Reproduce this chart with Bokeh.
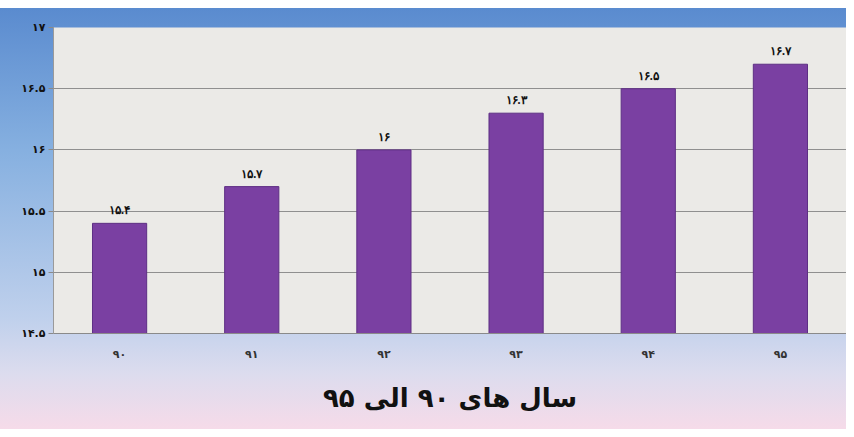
from bokeh.plotting import figure
from bokeh.models import ColumnDataSource, Title, FixedTicker, LabelSet
from bokeh.embed import file_html
from bokeh.resources import INLINE

years = ["۹۰", "۹۱", "۹۲", "۹۳", "۹۴", "۹۵"]
values = [15.4, 15.7, 16.0, 16.3, 16.5, 16.7]
value_labels = ["۱۵.۴", "۱۵.۷", "۱۶", "۱۶.۳", "۱۶.۵", "۱۶.۷"]
y_ticks = [14.5, 15, 15.5, 16, 16.5, 17]
y_tick_labels = ["۱۴.۵", "۱۵", "۱۵.۵", "۱۶", "۱۶.۵", "۱۷"]
title_text = "سال های ۹۰ الی ۹۵"

FONT = "DejaVu Sans"

src = ColumnDataSource(dict(year=years, value=values, label=value_labels))

p = figure(x_range=years, y_range=(14.5, 17), width=846, height=429,
           output_backend="svg", toolbar_location=None,
           min_border_left=53, min_border_right=0, min_border_top=27, min_border_bottom=0)

p.styles = {"background-image": "linear-gradient(to bottom, #ffffff 0px, #ffffff 8px, #5a8bcf 8px, #86b0e0 35%, #bfd0ec 74%, #dcdcee 87%, #f6dbe9 100%)"}
p.border_fill_color = None
p.background_fill_color = "#ebeae7"
p.outline_line_color = None

p.vbar(x="year", top="value", bottom=14.5, width=0.41, source=src,
       fill_color="#7a40a2", line_color="#5e2f84", line_width=1)

labels = LabelSet(x="year", y="value", text="label", source=src, y_offset=6,
                  text_align="center", text_baseline="bottom",
                  text_font=FONT, text_font_style="bold", text_font_size="12px",
                  text_color="#111111")
p.add_layout(labels)

p.yaxis.ticker = FixedTicker(ticks=y_ticks)
p.yaxis.major_label_overrides = {t: l for t, l in zip(y_ticks, y_tick_labels)}
p.yaxis.major_label_text_font = FONT
p.yaxis.major_label_text_font_style = "bold"
p.yaxis.major_label_text_font_size = "11px"
p.yaxis.major_label_text_color = "#111111"
p.yaxis.axis_line_color = "#9a9a9a"
p.yaxis.major_tick_line_color = "#8a8a8a"
p.yaxis.major_tick_out = 5
p.yaxis.major_tick_in = 0
p.yaxis.minor_tick_line_color = None
p.yaxis.major_label_standoff = 3

p.xaxis.major_label_text_font = FONT
p.xaxis.major_label_text_font_style = "bold"
p.xaxis.major_label_text_font_size = "11px"
p.xaxis.major_label_text_color = "#333333"
p.xaxis.axis_line_color = "#8a8a8a"
p.xaxis.major_tick_line_color = None
p.xaxis.major_label_standoff = 8

p.xgrid.grid_line_color = None
p.ygrid.grid_line_color = "#8f8f8f"
p.ygrid.grid_line_width = 1

t = Title(text=title_text, align="center", text_font=FONT, text_font_style="bold",
          text_font_size="26px", text_color="#111111", offset=0, standoff=34,
          text_line_height=0.9)
p.add_layout(t, "below")

open("out.html", "w").write(file_html(p, INLINE))
